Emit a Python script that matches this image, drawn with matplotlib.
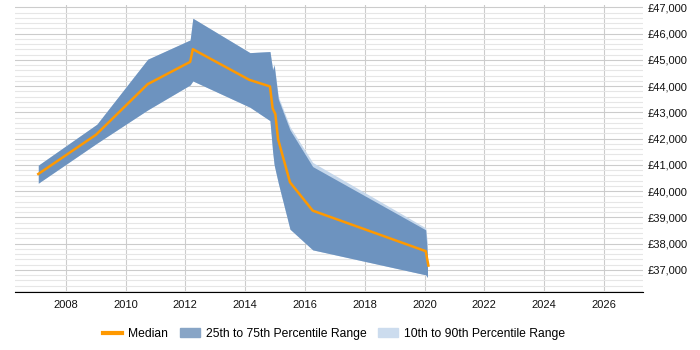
import matplotlib.pyplot as plt
from matplotlib.ticker import MultipleLocator, FuncFormatter
from matplotlib.patches import Patch
from matplotlib.lines import Line2D

plt.rcParams['font.family'] = ['Liberation Sans', 'DejaVu Sans']

# Mediana
med_x = [2007.08, 2009.01, 2010.74, 2012.16, 2012.25, 2014.14, 2014.83, 2014.92,
         2015.01, 2015.10, 2015.50, 2016.26, 2020.04, 2020.13]
med_y = [40650, 42145, 44072, 44920, 45403, 44236, 43985, 43148,
         42932, 41981, 40335, 39255, 37711, 37163]

# Rango 25-75
p25_x = [2007.08, 2009.04, 2010.74, 2012.16, 2012.25, 2014.16, 2014.83, 2014.92,
         2014.97, 2015.11, 2015.50, 2016.26, 2020.04, 2020.10]
p75_y = [40986, 42546, 45021, 45755, 46581, 45272, 45313, 44613,
         44792, 43500, 42330, 40932, 38523, 37500]
p25_y = [40300, 41823, 43091, 44042, 44194, 43193, 42683, 41500,
         41000, 40300, 38549, 37761, 36810, 36710]

# Rango 10-90
p90_y = [40986, 42546, 45021, 45755, 46581, 45272, 45313, 44650,
         44850, 43600, 42450, 41090, 38600, 38000]
p10_y = [40300, 41823, 43091, 44042, 44194, 43193, 42683, 41500,
         41000, 40300, 38549, 37761, 36810, 36710]

fig = plt.figure(figsize=(7, 3.5), dpi=100)
ax = fig.add_axes([0.0214, 0.166, 0.8972, 0.820])

ax.fill_between(p25_x, p10_y, p90_y, color='#c5d7eb', lw=0)
ax.fill_between(p25_x, p25_y, p75_y, color='#6d93bf', lw=0)
ax.plot(med_x, med_y, color='#ff9900', lw=1.8)

ax.set_xlim(2006.30, 2027.31)
ax.set_ylim(36160, 47090)
ax.xaxis.set_major_locator(MultipleLocator(2))
ax.yaxis.set_major_locator(MultipleLocator(1000))
ax.yaxis.set_minor_locator(MultipleLocator(200))
ax.yaxis.set_major_formatter(FuncFormatter(lambda v, p: '£{:,.0f}'.format(v)))
ax.yaxis.tick_right()
ax.grid(True, which='major', color='#cccccc', lw=0.8)
ax.grid(True, which='minor', axis='y', color='#e6e6e6', lw=0.8)
ax.set_axisbelow(True)
for s in ['left', 'right', 'top']:
    ax.spines[s].set_visible(False)
ax.spines['bottom'].set_color('black')
ax.tick_params(axis='both', which='both', length=0, labelsize=8, colors='#111111', pad=6)
ax.tick_params(axis='y', pad=3)

handles = [Line2D([], [], color='#ff9900', lw=3),
           Patch(color='#88a5c6'),
           Patch(color='#ccdcee')]
labels = ['Median', '25th to 75th Percentile Range', '10th to 90th Percentile Range']
fig.legend(handles, labels, loc='center', bbox_to_anchor=(0.477, 0.046), ncol=3,
           frameon=False, fontsize=8.7, handlelength=1.6, handletextpad=0.5,
           columnspacing=1.0)

fig.savefig('out.png', dpi=100)
